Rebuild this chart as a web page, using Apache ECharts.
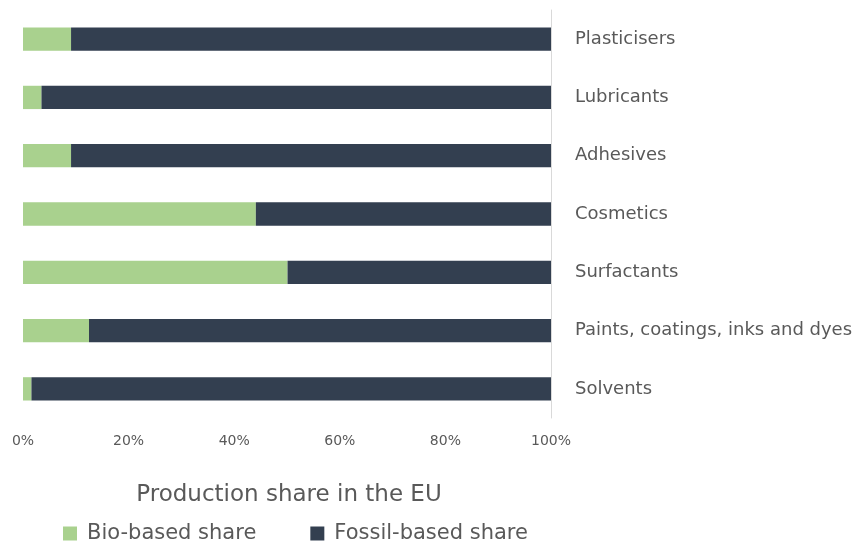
<!DOCTYPE html>
<html><head><meta charset="utf-8">
<script src="https://cdn.jsdelivr.net/npm/echarts@6/dist/echarts.min.js"></script>
<style>html,body{margin:0;padding:0;background:#fff}#c{width:857px;height:544px}</style>
</head><body><div id="c"></div>
<script>
const categories = ["Plasticisers","Lubricants","Adhesives","Cosmetics","Surfactants","Paints, coatings, inks and dyes","Solvents"];
const bioShare = [9.1, 3.5, 9.1, 44.1, 50.1, 12.5, 1.6];
const fossilShare = [90.9, 96.5, 90.9, 55.9, 49.9, 87.5, 98.4];
const xTicks = [0, 20, 40, 60, 80, 100];
const titleText = "Production share in the EU";
const seriesNames = ["Bio-based share", "Fossil-based share"];

const font = "DejaVu Sans";
const chart = echarts.init(document.getElementById('c'));
chart.setOption({
  animation: false,
  title: { text: titleText, left: 284, top: 479, textAlign: 'center',
    textStyle: { fontFamily: font, fontSize: 23, fontWeight: 'normal', color: '#595959' } },
  legend: { data: seriesNames, left: 58, top: 518, itemWidth: 14, itemHeight: 14, itemGap: 54, icon: 'rect',
    textStyle: { fontFamily: font, fontSize: 21, color: '#595959', padding: [0, 0, 0, 5] } },
  grid: { left: 23, right: 306, top: 10, bottom: 126, containLabel: false },
  xAxis: { type: 'value', min: xTicks[0], max: xTicks[xTicks.length-1], interval: 20,
    axisLine: { show: false }, axisTick: { show: false }, splitLine: { show: false },
    axisLabel: { formatter: v => v + '%', fontFamily: font, fontSize: 14, color: '#595959', margin: 16 } },
  yAxis: { type: 'category', data: categories, inverse: true, position: 'right',
    axisLine: { show: true, onZero: false, lineStyle: { color: '#d9d9d9', width: 1 } }, axisTick: { show: false },
    axisLabel: { fontFamily: font, fontSize: 18, color: '#595959', margin: 24 } },
  series: [
    { name: seriesNames[0], type: 'bar', stack: 's', data: bioShare, barCategoryGap: '60%', itemStyle: { color: '#a9d18e' } },
    { name: seriesNames[1], type: 'bar', stack: 's', data: fossilShare, itemStyle: { color: '#333f50' } }
  ]
});
</script></body></html>
